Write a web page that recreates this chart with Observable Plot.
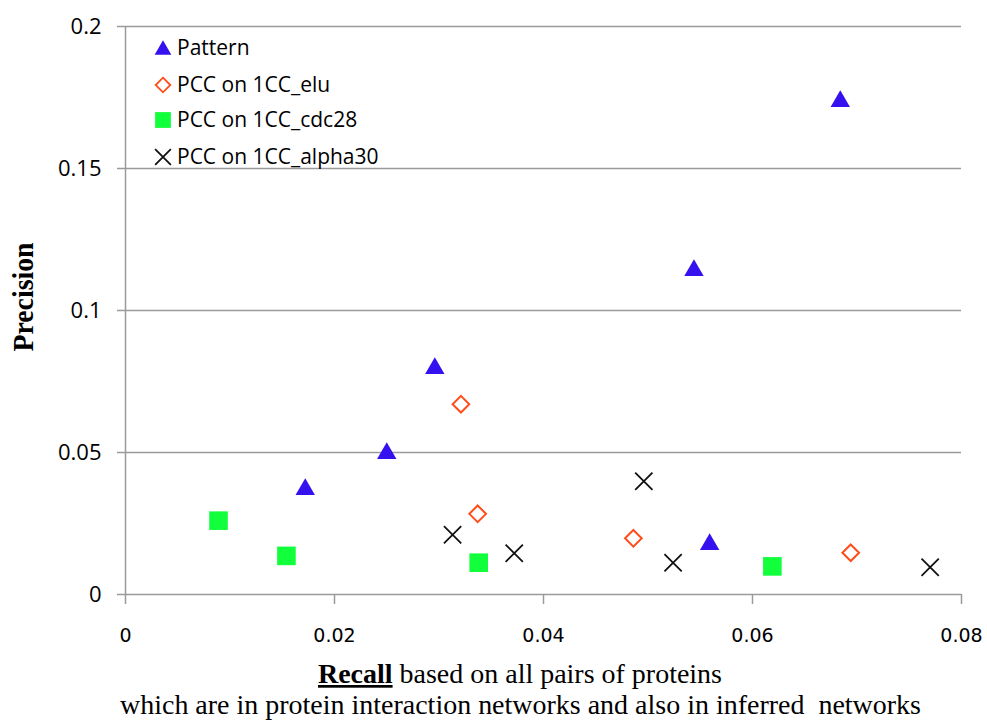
<!DOCTYPE html>
<html><head><meta charset="utf-8">
<script src="https://cdn.jsdelivr.net/npm/d3@7"></script>
<script src="https://cdn.jsdelivr.net/npm/@observablehq/plot@0.6"></script>
<style>body{margin:0;background:#fff} #chart{width:987px;height:723px}</style>
</head><body><div id="chart"></div>
<script>
const seriesNames = ["Pattern", "PCC on 1CC_elu", "PCC on 1CC_cdc28", "PCC on 1CC_alpha30"];
const patternRecall = [0.0172, 0.0250, 0.0296, 0.0544, 0.0559, 0.0684];
const patternPrecision = [0.0370, 0.0497, 0.0796, 0.1141, 0.0176, 0.1736];
const eluRecall = [0.0321, 0.0337, 0.0486, 0.0694];
const eluPrecision = [0.0670, 0.0284, 0.0198, 0.0147];
const cdc28Recall = [0.0089, 0.0154, 0.0338, 0.0619];
const cdc28Precision = [0.0260, 0.0136, 0.0112, 0.0099];
const alpha30Recall = [0.0313, 0.0372, 0.0496, 0.0524, 0.0770];
const alpha30Precision = [0.0210, 0.0145, 0.0399, 0.0112, 0.0096];
const xTicks = [0, 0.02, 0.04, 0.06, 0.08];
const yTicks = [0, 0.05, 0.1, 0.15, 0.2];

const zip = (xs, ys) => xs.map((x, i) => ({x, y: ys[i]}));
const pattern = zip(patternRecall, patternPrecision);
const elu = zip(eluRecall, eluPrecision);
const cdc28 = zip(cdc28Recall, cdc28Precision);
const alpha30 = zip(alpha30Recall, alpha30Precision);

const BLUE = "#3411ee", ORANGE = "#ff4d1a", GREEN = "#12ff3c", GRAY = "#9a9a9a";

const chart = Plot.plot({
  width: 987, height: 723,
  marginLeft: 125, marginRight: 26, marginTop: 26, marginBottom: 129,
  style: {background: "white", overflow: "visible"},
  x: {domain: [0, 0.08]},
  y: {domain: [0, 0.2]},
  marks: [
    Plot.ruleY(yTicks.slice(1), {stroke: GRAY, strokeWidth: 1.5}),
    Plot.ruleY([0], {stroke: GRAY, strokeWidth: 1.5}),
    Plot.ruleX([0], {stroke: GRAY, strokeWidth: 1.5}),
    Plot.axisX({ticks: xTicks, tickSize: 10, tickFormat: () => "", label: null, stroke: GRAY, strokeWidth: 1.5}),
    Plot.axisY({ticks: yTicks, tickSize: 8, tickFormat: () => "", label: null, stroke: GRAY, strokeWidth: 1.5}),
    Plot.text(xTicks, {x: d => d, y: () => 0, text: d => String(d), dy: 41,
      fontSize: 19, fontFamily: "DejaVu Sans", fill: "#000", textAnchor: "middle"}),
    Plot.text(yTicks, {x: () => 0, y: d => d, text: d => String(d), dx: -24,
      fontSize: 22, fontFamily: "Open Sans", fill: "#000", textAnchor: "end"}),
    Plot.dot(cdc28, {x: "x", y: "y", symbol: "square", fill: GREEN, r: 10.5}),
    Plot.dot(elu, {x: "x", y: "y", symbol: "diamond2", stroke: ORANGE, strokeWidth: 2, fill: "none", r: 7.5}),
    Plot.dot(alpha30, {x: "x", y: "y", symbol: "times", stroke: "#111", strokeWidth: 1.8, r: 7.9}),
    Plot.dot(pattern, {x: "x", y: "y", symbol: "triangle", fill: BLUE, r: 7.2})
  ]
});
document.getElementById("chart").appendChild(chart);

const svg = d3.select(chart);

// Legend
const legendItems = [
  {name: seriesNames[0], type: d3.symbolTriangle, r: 6.2, fill: BLUE, stroke: "none", cy: 48},
  {name: seriesNames[1], type: d3.symbolDiamond2, r: 6.6, fill: "none", stroke: ORANGE, cy: 85},
  {name: seriesNames[2], type: d3.symbolSquare, r: 8.9, fill: GREEN, stroke: "none", cy: 120},
  {name: seriesNames[3], type: d3.symbolTimes, r: 7.2, fill: "none", stroke: "#111", cy: 157}
];
const lg = svg.append("g").style("font-family", "'Open Sans'").style("font-size", "21px").attr("text-anchor", "start");
legendItems.forEach(it => {
  const dy = it.type === d3.symbolTriangle ? 2 : 0;
  lg.append("path")
    .attr("d", d3.symbol(it.type, it.r * it.r * Math.PI)())
    .attr("transform", `translate(163,${it.cy + dy})`)
    .attr("fill", it.fill).attr("stroke", it.stroke).attr("stroke-width", 1.8);
  lg.append("text").attr("x", 177).attr("y", it.cy).attr("dy", "0.35em")
    .attr("text-anchor", "start").text(it.name);
});

// Axis titles
const t1 = svg.append("text").attr("x", 520).attr("y", 683).attr("text-anchor", "middle")
  .style("font-family", "'Liberation Serif'").style("font-size", "27px").attr("textLength", 404).attr("lengthAdjust", "spacingAndGlyphs");
t1.append("tspan").attr("font-weight", "bold").attr("text-decoration", "underline").text("Recall");
t1.append("tspan").text(" based on all pairs of proteins");
svg.append("text").attr("x", 520.5).attr("y", 714).attr("text-anchor", "middle")
  .style("font-family", "'Liberation Serif'").style("font-size", "27px").attr("textLength", 801).attr("lengthAdjust", "spacingAndGlyphs")
  .text("which are in protein interaction networks and also in inferred  networks");
svg.append("text").attr("transform", "translate(22,297) rotate(-90)").attr("text-anchor", "middle").attr("dy", "0.35em")
  .style("font-family", "'Liberation Serif'").attr("font-weight", "bold").style("font-size", "30px")
  .attr("textLength", 109).attr("lengthAdjust", "spacingAndGlyphs").text("Precision");
</script>
</body></html>
